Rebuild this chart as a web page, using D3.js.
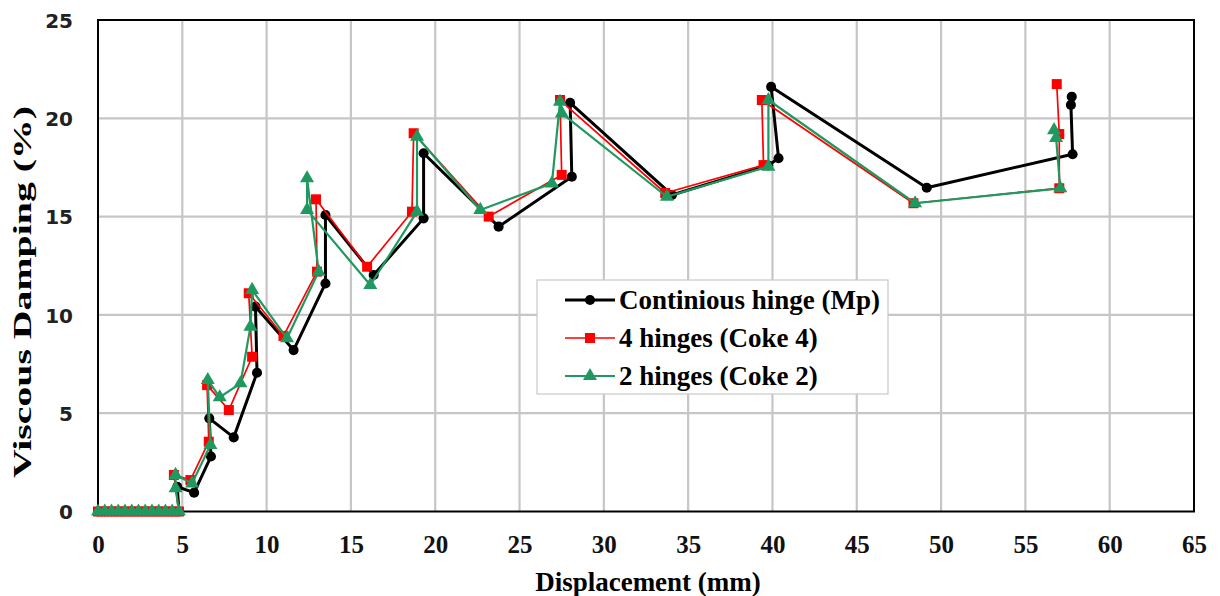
<!DOCTYPE html>
<html><head><meta charset="utf-8">
<script src="https://cdn.jsdelivr.net/npm/d3@7"></script>
<style>body{margin:0;background:#fff}svg{display:block}</style>
</head><body><div id="chart"></div>
<script>
const zerosX = [0,0.4,0.8,1.2,1.6,2.0,2.4,2.8,3.2,3.6,4.0,4.4,4.8];
const zerosY = zerosX.map(()=>0);

const mpX = [4.7,5.7,6.7,6.6,8.05,9.43,9.34,11.6,13.49,13.49,16.35,19.31,19.31,23.76,28.1,28.0,34.04,39.75,40.36,39.92,49.15,57.8,57.7,57.75];
const mpY = [1.26,0.96,2.8,4.74,3.77,7.06,10.42,8.21,11.6,15.08,12.03,14.91,18.22,14.49,17.03,20.79,16.1,17.6,17.97,21.6,16.47,18.17,20.68,21.1];

const coke4X = [4.5,5.48,6.57,6.47,7.76,9.14,8.94,11.0,12.99,12.93,15.96,18.62,18.72,23.17,27.5,27.4,33.64,39.47,39.37,48.36,57.01,57.01,56.86];
const coke4Y = [1.86,1.6,3.55,6.43,5.16,7.87,11.1,8.93,12.2,15.88,12.45,15.25,19.24,15.0,17.12,20.93,16.2,17.62,20.93,15.68,16.44,19.2,21.74];

const coke2X = [4.6,4.6,5.58,6.67,6.51,7.22,8.45,9.04,9.14,11.21,13.09,12.4,12.4,16.15,18.92,18.92,22.67,26.92,27.4,27.51,33.74,39.76,39.76,48.46,57.07,56.82,56.7];
const coke2Y = [1.18,1.86,1.43,3.38,6.69,5.81,6.52,9.4,11.27,8.81,12.2,16.95,15.34,11.52,15.25,19.06,15.34,16.69,20.84,20.25,16.01,17.54,20.93,15.68,16.44,19.0,19.4];

const seriesNames = ["Continious hinge (Mp)","4 hinges (Coke 4)","2 hinges (Coke 2)"];
const xTicks = [0,5,10,15,20,25,30,35,40,45,50,55,60,65];
const yTicks = [0,5,10,15,20,25];

const W=1220,H=596;
const svg=d3.select("#chart").append("svg").attr("width",W).attr("height",H);
const x=d3.scaleLinear().domain([0,65]).range([98,1194]);
const y=d3.scaleLinear().domain([0,25]).range([511.5,20]);

// gridlines
svg.append("g").selectAll("line").data(xTicks.slice(1,-1)).join("line")
  .attr("x1",d=>x(d)).attr("x2",d=>x(d)).attr("y1",y(0)).attr("y2",y(25))
  .attr("stroke","#c6c6c6").attr("stroke-width",2.2);
svg.append("g").selectAll("line").data(yTicks.slice(1,-1)).join("line")
  .attr("x1",x(0)).attr("x2",x(65)).attr("y1",d=>y(d)).attr("y2",d=>y(d))
  .attr("stroke","#c6c6c6").attr("stroke-width",2.2);

// frame
svg.append("rect").attr("x",x(0)).attr("y",y(25)).attr("width",x(65)-x(0)).attr("height",y(0)-y(25))
  .attr("fill","none").attr("stroke","#000").attr("stroke-width",2);

// axes labels
const xa=svg.append("g").attr("transform",`translate(0,${y(0)})`)
  .call(d3.axisBottom(x).tickValues(xTicks).tickSize(0).tickPadding(0).tickFormat(d3.format("d")));
xa.select(".domain").remove();
xa.selectAll("text").attr("dy",null).attr("y",41)
  .style("font-family","'Liberation Serif','Times New Roman',serif").style("font-weight","bold").style("font-size","25px").attr("fill","#111");
const ya=svg.append("g").attr("transform",`translate(${x(0)},0)`)
  .call(d3.axisLeft(y).tickValues(yTicks).tickSize(0).tickPadding(0).tickFormat(d3.format("d")));
ya.select(".domain").remove();
ya.selectAll("text").attr("x",-25).attr("dy","0.36em")
  .style("font-family","'DejaVu Sans',Verdana,sans-serif").style("font-weight","bold").style("font-size","20px").attr("fill","#222");

svg.append("text").attr("x",648).attr("y",591).attr("text-anchor","middle")
  .style("font-family","'Liberation Serif','Times New Roman',serif").style("font-weight","bold").style("font-size","27px")
  .text("Displacement (mm)");
svg.append("text").attr("transform","translate(31,292) rotate(-90)").attr("text-anchor","middle")
  .attr("textLength",372).attr("lengthAdjust","spacingAndGlyphs")
  .style("font-family","'Liberation Serif','Times New Roman',serif").style("font-weight","bold").style("font-size","25px")
  .text("Viscous Damping (%)");

function pts(xs,ys){return zerosX.map((d,i)=>[d,zerosY[i]]).concat(xs.map((d,i)=>[d,ys[i]]));}
const data=[
  {name:seriesNames[0],pts:pts(mpX,mpY),color:"#000000",lw:3,sym:d3.symbolCircle,size:80},
  {name:seriesNames[1],pts:pts(coke4X,coke4Y),color:"#ff0000",lw:1.7,sym:d3.symbolSquare,size:100},
  {name:seriesNames[2],pts:pts(coke2X,coke2Y),color:"#1f9960",lw:2.2,sym:d3.symbolTriangle,size:85}
];
const line=d3.line().x(d=>x(d[0])).y(d=>y(d[1]));
data.forEach(s=>{
  const g=svg.append("g");
  g.append("path").attr("d",line(s.pts)).attr("fill","none").attr("stroke",s.color).attr("stroke-width",s.lw).attr("stroke-linejoin","round");
  g.selectAll("path.m").data(s.pts).join("path").attr("class","m")
    .attr("d",d3.symbol().type(s.sym).size(s.size))
    .attr("transform",d=>`translate(${x(d[0])},${y(d[1])})`).attr("fill",s.color);
});

// legend
const lg=svg.append("g");
lg.append("rect").attr("x",537).attr("y",280).attr("width",351).attr("height",114).attr("fill","#fff").attr("stroke","#c8c8c8").attr("stroke-width",1.2);
data.forEach((s,i)=>{
  const cy=300+i*38;
  lg.append("line").attr("x1",565).attr("x2",615).attr("y1",cy).attr("y2",cy).attr("stroke",s.color).attr("stroke-width",s.lw);
  lg.append("path").attr("d",d3.symbol().type(s.sym).size(s.size)).attr("transform",`translate(590,${cy})`).attr("fill",s.color);
  lg.append("text").attr("x",619).attr("y",cy+9)
    .style("font-family","'Liberation Serif','Times New Roman',serif").style("font-weight","bold").style("font-size","27px")
    .text(s.name);
});
</script></body></html>
